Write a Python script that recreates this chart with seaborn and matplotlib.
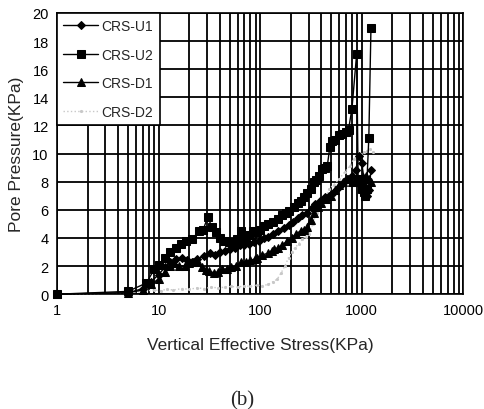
import matplotlib
matplotlib.use("Agg")
import matplotlib.pyplot as plt
import matplotlib.ticker as mticker
import seaborn as sns
import pandas as pd

# ---- data ----
u1_x = [1, 5, 7, 8.5, 10, 11.5, 13, 15, 17, 19, 21.5, 24, 28, 32, 36, 40, 45, 50, 56, 63,
        70, 78, 87, 97, 108, 120, 135, 150, 170, 190, 210, 235, 260, 290, 320, 350, 390,
        430, 480, 530, 590, 650, 720, 800, 870, 930, 1000, 1060, 1120, 1180, 1230]
u1_y = [0, 0.1, 0.4, 0.9, 1.4, 1.9, 2.3, 2.5, 2.6, 2.4, 2.3, 2.5, 2.7, 2.9, 2.8, 2.97, 3.1,
        3.2, 3.3, 3.5, 3.5, 3.6, 3.7, 3.8, 4.0, 4.1, 4.3, 4.5, 4.7, 4.9, 5.1, 5.4, 5.6, 5.8,
        6.1, 6.4, 6.6, 6.9, 7.0, 7.3, 7.6, 7.9, 8.2, 8.4, 8.8, 9.8, 9.3, 8.0, 7.0, 7.4, 8.8]

u2_x = [1, 5, 7.6, 9.1, 10.2, 11.5, 13, 14.9, 16.8, 18.7, 21.5, 24.8, 27.5, 30.4, 33.5,
        36.8, 40.5, 44.4, 49, 54, 59, 65, 71, 77, 84, 92, 100, 109, 120, 133, 148, 165, 180,
        192, 215, 235, 250, 268, 290, 314, 338, 358, 378, 407, 430, 457, 485, 512, 550, 595,
        640, 692, 740, 800, 890, 920, 960, 1000, 1040, 1084, 1114, 1172, 1230]
u2_y = [0, 0.2, 0.8, 1.8, 2.1, 2.6, 3.0, 3.3, 3.6, 3.8, 3.9, 4.5, 4.6, 5.46, 4.8, 4.4, 4.0,
        3.8, 3.7, 3.5, 3.9, 4.5, 4.0, 4.2, 4.5, 4.4, 4.6, 4.86, 5.0, 5.1, 5.34, 5.6, 5.8,
        5.93, 6.2, 6.5, 6.64, 6.9, 7.2, 7.47, 7.95, 8.1, 8.4, 8.9, 9.0, 9.1, 10.5, 10.9,
        11.0, 11.3, 11.4, 11.5, 11.7, 13.2, 17.1, 8.2, 8.0, 7.5, 7.24, 7.0, 7.47, 11.1, 18.9]

d1_x = [1, 5, 7, 8.5, 10, 11.5, 13, 14.3, 16, 18, 20, 22, 24.3, 27, 29, 31.6, 35, 38.5,
        42.4, 47, 52, 58, 65, 72, 80, 88, 94, 105, 118, 130, 137, 150, 165, 185, 205, 225,
        250, 270, 291, 315, 340, 370, 400, 440, 492, 540, 600, 660, 730, 800, 870, 950,
        1030, 1100, 1170, 1230]
d1_y = [0, 0.1, 0.3, 0.7, 1.1, 1.6, 2.0, 2.25, 2.0, 2.0, 2.2, 2.3, 2.26, 1.9, 1.7, 1.66,
        1.5, 1.6, 1.78, 1.8, 1.9, 2.0, 2.26, 2.3, 2.4, 2.5, 2.6, 2.8, 2.9, 3.1, 3.2, 3.3,
        3.5, 3.8, 4.0, 4.3, 4.5, 4.6, 4.75, 5.3, 5.8, 6.2, 6.5, 6.8, 7.0, 7.4, 7.8, 8.0,
        8.2, 8.0, 8.0, 8.2, 8.3, 8.4, 8.2, 8.0]

d2_x = [1, 5, 7, 9, 10.5, 12, 14, 17, 20, 24, 28, 33, 38, 45, 52, 60, 70, 80, 92, 105,
        120, 135, 147, 160, 175, 190, 205, 220, 240, 260, 280, 303, 330, 360, 400, 440,
        480, 530, 600, 680, 760, 830, 900, 980, 1050, 1120, 1200, 1300]
d2_y = [0, 0.1, 0.2, 0.3, 0.25, 0.35, 0.3, 0.4, 0.35, 0.45, 0.4, 0.5, 0.45, 0.5, 0.55,
        0.5, 0.6, 0.55, 0.65, 0.6, 0.7, 0.9, 1.07, 1.5, 2.0, 2.6, 3.0, 3.3, 3.6, 3.9, 4.1,
        4.3, 5.0, 5.8, 6.4, 6.9, 7.5, 7.8, 8.2, 8.7, 9.1, 9.6, 9.8, 10.0, 10.1, 10.2,
        10.3, 10.1]

series_names = ["CRS-U1", "CRS-U2", "CRS-D1", "CRS-D2"]
x_ticks = [1, 10, 100, 1000, 10000]
x_tick_labels = ["1", "10", "100", "1000", "10000"]
y_ticks = list(range(0, 21, 2))

# ---- plotting ----
sns.set_style("white")
plt.rcParams["font.family"] = ["Liberation Sans", "DejaVu Sans"]

fig = plt.figure(figsize=(4.85, 4.10), dpi=100)
ax = fig.add_axes([0.1175, 0.28, 0.838, 0.686])

styles = [
    dict(marker="D", color="black", markersize=4.5, lw=1.0, ls="-", mec="black"),
    dict(marker="s", color="black", markersize=6, lw=1.0, ls="-", mec="black"),
    dict(marker="^", color="black", markersize=6, lw=1.0, ls="-", mec="black"),
    dict(marker=".", color="#c8c8c8", markersize=3, lw=1.0, ls=":", mec="#c8c8c8"),
]
data = [(u1_x, u1_y), (u2_x, u2_y), (d1_x, d1_y), (d2_x, d2_y)]
order = [3, 2, 0, 1]
handles = {}
for i in order:
    xs, ys = data[i]
    df = pd.DataFrame({"x": xs, "y": ys})
    st = styles[i]
    sns.lineplot(data=df, x="x", y="y", ax=ax, sort=False, estimator=None,
                 color=st["color"], marker=st["marker"], markersize=st["markersize"],
                 linewidth=st["lw"], linestyle=st["ls"], markeredgecolor=st["mec"],
                 zorder=3, clip_on=False)
    handles[i] = ax.lines[-1]

ax.set_xscale("log")
ax.set_xlim(1, 10000)
ax.set_ylim(0, 20)
ax.set_xticks(x_ticks)
ax.set_xticklabels(x_tick_labels)
ax.xaxis.set_minor_locator(mticker.LogLocator(base=10, subs=range(2, 10)))
ax.xaxis.set_minor_formatter(mticker.NullFormatter())
ax.set_yticks(y_ticks)
ax.grid(True, which="both", axis="x", color="black", lw=1.3)
ax.grid(True, which="major", axis="y", color="black", lw=1.3)
ax.set_axisbelow(True)
ax.tick_params(which="both", length=0, labelsize=10.5, colors="black", pad=6)
for sp in ax.spines.values():
    sp.set_color("black")
    sp.set_linewidth(1.2)

ax.set_xlabel("Vertical Effective Stress(KPa)", fontsize=12.5, labelpad=15)
ax.set_ylabel("Pore Pressure(KPa)", fontsize=12.5, labelpad=6)

leg = ax.legend([handles[i] for i in range(4)], series_names, loc="upper left",
                bbox_to_anchor=(0, 1), borderaxespad=0, frameon=True, fancybox=False,
                edgecolor="black", framealpha=1, fontsize=10, handlelength=2.5,
                labelspacing=1.05, borderpad=0.45, handletextpad=0.25)
leg.get_frame().set_linewidth(1.2)
leg.set_zorder(5)

fig.text(0.5, 0.0, "(b)", ha="center", va="bottom", fontsize=15,
         family=["Liberation Serif", "DejaVu Serif"])

fig.savefig("out.png", dpi=100)
